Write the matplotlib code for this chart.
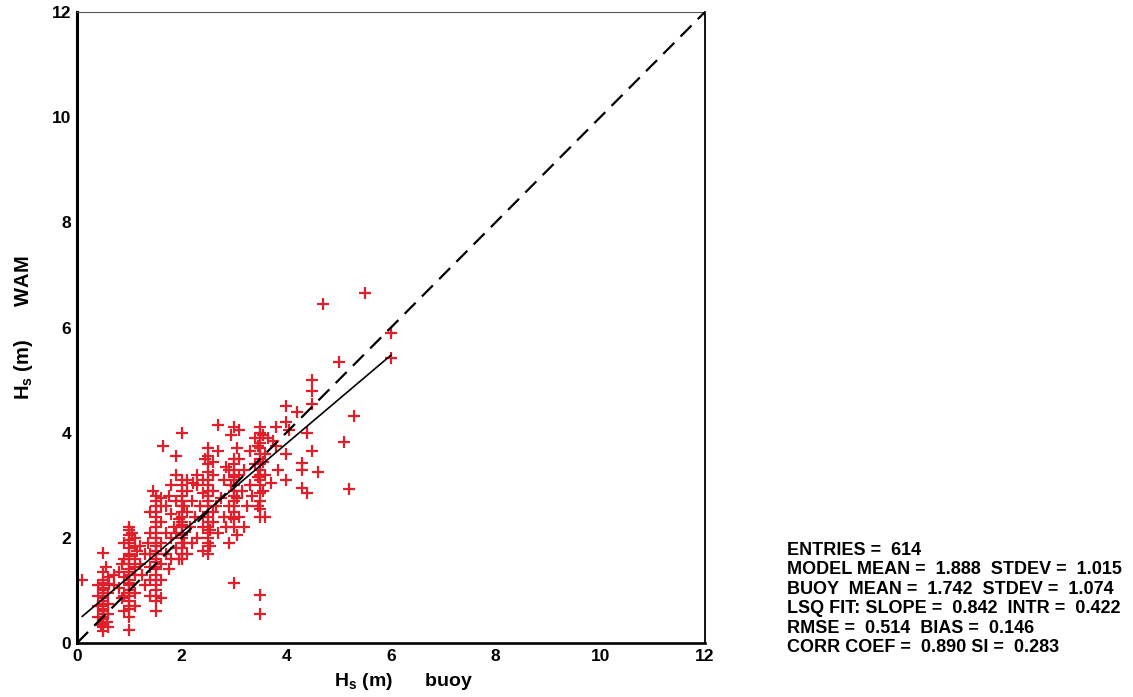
import matplotlib
matplotlib.use("Agg")
import matplotlib.pyplot as plt

plt.rcParams['font.family'] = ['Liberation Sans', 'DejaVu Sans']
plt.rcParams['font.weight'] = 'bold'
plt.rcParams['mathtext.fontset'] = 'custom'
plt.rcParams['mathtext.bf'] = 'Liberation Sans:bold'
plt.rcParams['mathtext.rm'] = 'Liberation Sans:bold'
plt.rcParams['mathtext.default'] = 'bf'

### data: WAM Hs against buoy Hs (m)
# buoy values come in 0.5 m steps for most records, one list per step
wam_at_05 = [0.22, 0.3, 0.38, 0.45, 0.5, 0.55, 0.6, 0.65, 0.7, 0.75, 0.8, 0.85,
             0.9, 0.95, 1.0, 1.05, 1.1, 1.15, 1.2, 1.35, 1.72]
wam_at_10 = [0.25, 0.5, 0.65, 0.7, 0.8, 0.9, 0.95, 1.0, 1.1, 1.15, 1.2, 1.3,
             1.35, 1.4, 1.5, 1.6, 1.65, 1.7, 1.8, 1.9, 1.95, 2.05, 2.15, 2.2]
wam_at_15 = [0.6, 0.8, 0.9, 1.0, 1.1, 1.2, 1.3, 1.4, 1.45, 1.55, 1.6, 1.7, 1.75,
             1.85, 1.9, 2.0, 2.1, 2.2, 2.3, 2.4, 2.5, 2.6, 2.7, 2.8]
wam_at_20 = [1.6, 1.7, 1.8, 1.9, 2.0, 2.05, 2.1, 2.2, 2.25, 2.3, 2.4, 2.5, 2.6,
             2.7, 2.8, 2.9, 3.0, 3.1, 4.0]
wam_at_25 = [1.7, 1.9, 2.0, 2.1, 2.2, 2.3, 2.4, 2.5, 2.6, 2.7, 2.8, 2.9, 3.0,
             3.1, 3.25, 3.4, 3.55, 3.7]
wam_at_30 = [1.15, 2.2, 2.35, 2.5, 2.6, 2.7, 2.8, 2.9, 3.0, 3.1, 3.15, 3.2, 3.3,
             3.4, 3.5, 4.1]
wam_at_35 = [0.55, 0.92, 2.4, 2.55, 2.7, 2.85, 3.0, 3.1, 3.2, 3.3, 3.4, 3.5, 3.6,
             3.7, 3.8, 3.9, 4.0, 4.1]
buoy_steps = [0.5, 1.0, 1.5, 2.0, 2.5, 3.0, 3.5]

# records just either side of the 0.5 m steps
buoy_near = [0.4, 0.4, 0.4, 0.4, 0.6, 0.6, 0.6, 0.6, 0.45, 0.55,
             0.9, 0.9, 0.9, 0.9, 0.9, 1.1, 1.1, 1.1, 1.1, 1.05,
             1.4, 1.4, 1.4, 1.4, 1.6, 1.6, 1.6, 1.6, 1.45,
             1.95, 1.95, 2.05, 2.05, 2.1, 2.1, 1.9,
             2.4, 2.4, 2.45, 2.55, 2.55, 2.6, 2.6, 2.6,
             2.95, 3.05, 3.05, 3.1, 2.9, 3.05,
             3.45, 3.45, 3.55, 3.55, 3.55, 3.6, 3.45]
wam_near = [0.5, 0.7, 0.9, 1.1, 0.3, 0.55, 0.75, 1.25, 0.35, 1.45,
            0.6, 0.9, 1.25, 1.6, 1.9, 0.7, 0.95, 1.45, 1.85, 2.1,
            0.9, 1.7, 2.1, 2.5, 0.85, 1.2, 2.6, 2.75, 2.9,
            1.6, 2.35, 1.9, 2.6, 2.9, 3.1, 2.1,
            2.4, 3.1, 3.5, 1.85, 2.15, 2.5, 3.2, 3.45,
            2.4, 2.05, 2.75, 3.2, 3.3, 3.7,
            2.6, 3.15, 2.9, 3.45, 3.95, 3.6, 3.75]

# remaining records, away from the steps
buoy_other = [0.1, 0.6, 0.62, 0.58, 0.7, 0.7, 0.8, 0.8, 0.85, 0.85,
              1.1, 1.1, 1.1, 1.15, 1.2, 1.2, 1.25, 1.3, 1.3, 1.35, 1.4, 1.4,
              1.6, 1.6, 1.6, 1.65, 1.7, 1.7, 1.7, 1.75, 1.75, 1.8, 1.8, 1.8, 1.8,
              1.85, 1.9, 1.9, 1.9, 1.9,
              2.1, 2.1, 2.15, 2.2, 2.2, 2.22, 2.25, 2.3, 2.3, 2.3, 2.35, 2.4, 2.4, 2.4,
              2.6, 2.6, 2.65, 2.7, 2.7, 2.7, 2.75, 2.8, 2.8, 2.85, 2.85, 2.9, 2.9,
              2.95, 2.95,
              3.1, 3.1, 3.1, 3.15, 3.2, 3.2, 3.25, 3.3, 3.3, 3.35, 3.4, 3.4,
              3.6, 3.6, 3.65, 3.7, 3.75, 3.8, 3.8, 3.85, 4.0, 4.0, 4.0, 4.0, 4.05,
              4.2, 4.3, 4.3, 4.3, 4.4, 4.4, 4.5, 4.5, 4.5, 4.5, 4.6, 4.7,
              5.0, 5.1, 5.2, 5.3, 5.5, 6.0, 6.0]
wam_other = [1.2, 0.95, 1.12, 0.4, 1.3, 1.1, 1.05, 1.35, 0.85, 1.5,
             1.3, 1.6, 2.0, 1.75, 1.5, 1.85, 1.3, 1.7, 1.1, 1.9, 1.45, 1.2,
             1.5, 1.9, 2.3, 3.75, 1.7, 2.1, 2.6, 1.4, 2.8, 1.6, 2.0, 2.45, 3.0,
             2.2, 1.8, 2.7, 3.2, 3.55,
             1.7, 2.5, 2.2, 1.9, 2.7, 3.04, 2.4, 2.0, 3.0, 3.2, 2.6, 2.2, 2.85, 1.75,
             2.3, 2.9, 2.6, 3.65, 4.15, 2.1, 2.75, 2.4, 3.1, 2.2, 3.35, 2.6, 1.9,
             3.0, 3.95,
             2.4, 3.5, 4.05, 2.9, 2.2, 3.3, 2.6, 3.65, 3.0, 2.8, 3.4, 3.9,
             2.4, 3.2, 3.9, 3.05, 3.85, 3.75, 4.1, 3.3, 3.1, 3.6, 4.5, 4.2, 4.05,
             4.4, 2.95, 3.3, 3.42, 2.85, 4.0, 3.65, 4.55, 4.8, 5.0, 3.25, 6.45,
             5.35, 3.82, 2.92, 4.32, 6.65, 5.9, 5.42]

# summary statistics of the comparison
fit_slope = 0.842
fit_intr = 0.422
stats_lines = [
    "ENTRIES =  614",
    "MODEL MEAN =  1.888  STDEV =  1.015",
    "BUOY  MEAN =  1.742  STDEV =  1.074",
    "LSQ FIT: SLOPE =  0.842  INTR =  0.422",
    "RMSE =  0.514  BIAS =  0.146",
    "CORR COEF =  0.890 SI =  0.283",
]
ticks = [0, 2, 4, 6, 8, 10, 12]

### assemble
step_lists = [wam_at_05, wam_at_10, wam_at_15, wam_at_20, wam_at_25, wam_at_30, wam_at_35]
xs, ys = [], []
for step, vals in zip(buoy_steps, step_lists):
    xs += [step] * len(vals)
    ys += vals
xs += buoy_near + buoy_other
ys += wam_near + wam_other

### plot
fig = plt.figure(figsize=(11.33, 6.97), dpi=100)
ax = fig.add_axes([0.068, 0.0775, 0.554, 0.905])

ax.plot(xs, ys, linestyle='none', marker='+', color='#e01f2a',
        markersize=9, markeredgewidth=1.6, zorder=2)

# 1:1 line
ax.plot([0, 12], [0, 12], color='black', linewidth=1.6, dashes=(7, 4), zorder=3)
# least squares fit over the buoy range
x0, x1 = min(xs), max(xs)
ax.plot([x0, x1], [fit_intr + fit_slope*x0, fit_intr + fit_slope*x1],
        color='black', linewidth=1.2, zorder=3)

ax.set_xlim(0, 12)
ax.set_ylim(0, 12)
ax.set_xticks(ticks)
ax.set_yticks(ticks)
ax.tick_params(length=0, labelsize=12.5, pad=4)
for lab in ax.get_xticklabels() + ax.get_yticklabels():
    lab.set_fontweight('bold')

ax.spines['left'].set_linewidth(2.2)
ax.spines['bottom'].set_linewidth(1.9)
ax.spines['top'].set_linewidth(0.8)
ax.spines['top'].set_color('#555555')
ax.spines['right'].set_linewidth(1.3)

ax.set_xlabel(r'H$_\mathbf{s}$ (m)      buoy', fontsize=14, fontweight='bold', labelpad=4)
ax.xaxis.set_label_coords(0.52, -0.045)
ax.set_ylabel(r'H$_\mathbf{s}$ (m)      WAM', fontsize=14.5, fontweight='bold', labelpad=12)

y = 0.204
for line in stats_lines:
    fig.text(0.695, y, line, fontsize=13, fontweight='bold', va='baseline', ha='left')
    y -= 0.0279

fig.savefig('out.png', dpi=100, facecolor='white')
